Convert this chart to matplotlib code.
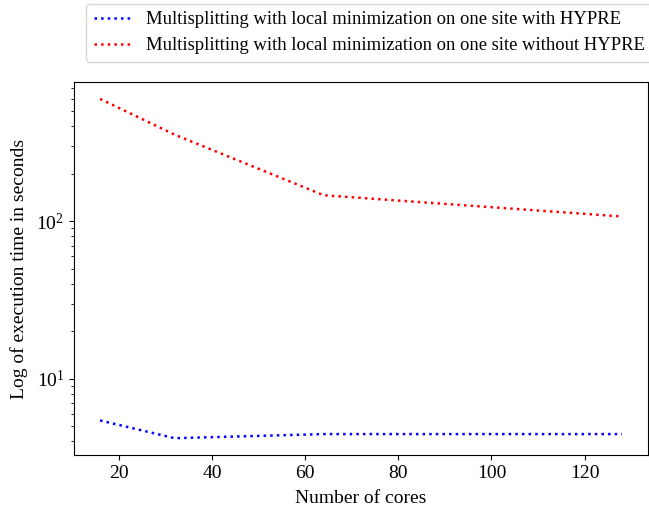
import matplotlib
matplotlib.use("Agg")
import matplotlib.pyplot as plt

plt.rcParams['font.family'] = ['Liberation Serif', 'DejaVu Serif']
plt.rcParams['mathtext.fontset'] = 'stix'
plt.rcParams['font.size'] = 14

cores = [16, 32, 64, 128]
with_hypre = [5.43, 4.19, 4.45, 4.45]
without_hypre = [597, 354, 146, 107]
labels = ["Multisplitting with local minimization on one site with HYPRE",
          "Multisplitting with local minimization on one site without HYPRE"]

fig = plt.figure(figsize=(6.49, 5.12), dpi=100)
ax = fig.add_axes([0.114, 0.111, 0.8845, 0.729])
ax.plot(cores, with_hypre, linestyle=':', color='blue', linewidth=1.8, label=labels[0])
ax.plot(cores, without_hypre, linestyle=':', color='red', linewidth=1.8, label=labels[1])
ax.set_yscale('log')
ax.set_xticks([20, 40, 60, 80, 100, 120])
ax.tick_params(labelsize=14)
ax.set_xlabel("Number of cores", fontsize=14, labelpad=5.5)
ax.set_ylabel("Log of execution time in seconds", fontsize=14, labelpad=6)
fig.legend(loc='upper right', bbox_to_anchor=(1.019, 1.011), fontsize=13.4)
fig.savefig("out.png", dpi=100)
